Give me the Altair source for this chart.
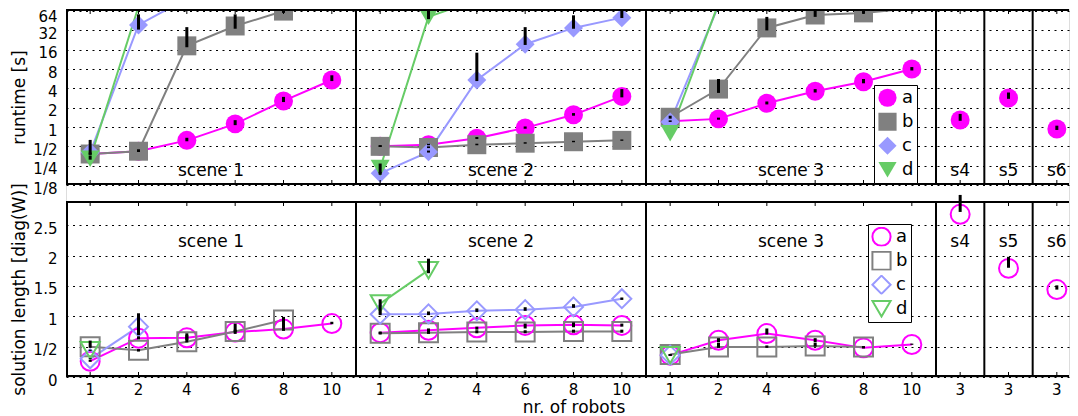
import altair as alt
import pandas as pd

FONT = "DejaVu Sans"
SERIES = ["a", "b", "c", "d"]
COLORS = ["#ff00ff", "#808080", "#9999ff", "#66cc66"]
SHAPES = ["circle", "square", "diamond", "triangle-down"]
SCENES = ["scene 1", "scene 2", "scene 3", "s4", "s5", "s6"]
SCENE_ROBOTS = [[1, 2, 4, 6, 8, 10], [1, 2, 4, 6, 8, 10], [1, 2, 4, 6, 8, 10], [3], [3], [3]]
RT_TICKS = [0.125, 0.25, 0.5, 1, 2, 4, 8, 16, 32, 64]
LEN_TICKS = [0, 0.5, 1, 1.5, 2, 2.5]

# runtime [s]  (per scene; missing = no result)
RT_A = [[0.38, 0.42, 0.62, 1.12, 2.55, 5.4], [0.50, 0.53, 0.67, 0.97, 1.55, 3.0],
        [1.23, 1.34, 2.34, 3.6, 5.07, 8.0], [1.29], [2.84], [0.93]]
RT_A_LO = [[0.37, 0.41, 0.60, 1.07, 2.45, 5.2], [0.49, 0.52, 0.65, 0.94, 1.5, 2.9],
           [1.2, 1.3, 2.25, 3.45, 4.8, 7.6], [1.25], [2.75], [0.9]]
RT_A_HI = [[0.40, 0.44, 0.68, 1.28, 2.95, 6.4], [0.52, 0.55, 0.70, 1.02, 1.65, 3.9],
           [1.27, 1.4, 2.5, 3.9, 5.6, 8.6], [1.6], [3.45], [1.05]]
RT_B = [[0.38, 0.42, 18.4, 37.5, 64, 72], [0.50, 0.48, 0.53, 0.56, 0.59, 0.62],
        [1.42, 3.9, 35, 55.6, 60, 71], [], [], []]
RT_B_LO = [[0.37, 0.41, 17.5, 34, 60, None], [0.49, 0.47, 0.52, 0.55, 0.58, 0.61],
           [1.35, 3.4, 32, 52, 58, None], [], [], []]
RT_B_HI = [[0.63, 0.45, 36, 57, 70, None], [0.52, 0.50, 0.55, 0.58, 0.61, 0.64],
           [1.5, 5.6, 52, 68, 68, None], [], [], []]
RT_C = [[0.40, 39, 100], [0.19, 0.41, 5.4, 19.5, 35, 50.6], [1.2, 78], [], [], []]
RT_C_LO = [[None, 33, None], [0.18, 0.40, 5.2, 19, 34, 50], [None, None], [], [], []]
RT_C_HI = [[None, 57, None], [0.20, 0.43, 14.4, 36, 55, 68], [None, None], [], [], []]
RT_D = [[0.32, 75], [0.23, 52, 96], [0.8, 84], [], [], []]
RT_D_LO = [[0.31, None], [0.19, 48, None], [None, None], [], [], []]
RT_D_HI = [[0.36, None], [0.27, 68, None], [None, None], [], [], []]

# solution length [diag(W)]
LEN_A = [[0.26, 0.64, 0.645, 0.74, 0.79, 0.88], [0.73, 0.77, 0.81, 0.85, 0.86, 0.85],
         [0.36, 0.605, 0.715, 0.605, 0.48, 0.535], [2.68], [1.79], [1.44]]
LEN_A_LO = [[0.25, 0.62, 0.61, 0.71, 0.76, 0.87], [0.71, 0.74, 0.78, 0.80, 0.82, 0.83],
            [0.35, 0.57, 0.70, 0.57, 0.47, 0.53], [2.72], [1.80], [1.44]]
LEN_A_HI = [[0.28, 0.67, 0.69, 0.78, 0.83, 0.91], [0.75, 0.80, 0.83, 0.88, 0.90, 0.88],
            [0.37, 0.64, 0.80, 0.64, 0.49, 0.55], [3.0], [1.98], [1.51]]
LEN_B = [[0.50, 0.44, 0.58, 0.75, 0.94], [0.72, 0.73, 0.74, 0.74, 0.75, 0.75],
         [0.37, 0.495, 0.495, 0.51, 0.495], [], [], []]
LEN_B_LO = [[0.48, 0.42, 0.57, 0.74, 0.80], [0.70, 0.71, 0.72, 0.72, 0.73, 0.73],
            [0.36, 0.48, 0.48, 0.50, 0.48], [], [], []]
LEN_B_HI = [[0.60, 0.46, 0.72, 0.88, 0.99], [0.74, 0.76, 0.77, 0.77, 0.78, 0.78],
            [0.38, 0.56, 0.52, 0.56, 0.51], [], [], []]
LEN_C = [[0.30, 0.83], [1.035, 1.04, 1.09, 1.11, 1.155, 1.29], [0.36], [], [], []]
LEN_C_LO = [[0.29, 0.69], [1.02, 1.02, 1.07, 1.09, 1.14, 1.27], [0.35], [], [], []]
LEN_C_HI = [[0.31, 1.05], [1.06, 1.08, 1.13, 1.15, 1.20, 1.31], [0.37], [], [], []]
LEN_D = [[0.44], [1.21, 1.76], [0.36], [], [], []]
LEN_D_LO = [[0.43], [1.05, 1.71], [0.35], [], [], []]
LEN_D_HI = [[0.45], [1.28, 1.95], [0.37], [], [], []]

KEYS = [f"{sc}|{r}" for sc, rs in zip(SCENES, SCENE_ROBOTS) for r in rs]


def build(tables):
    rows = []
    for s, (means, los, his) in zip(SERIES, tables):
        for ci, sc in enumerate(SCENES):
            for ri, v in enumerate(means[ci]):
                r = SCENE_ROBOTS[ci][ri]
                rows.append({"series": s, "scene": sc, "robots": r, "key": f"{sc}|{r}",
                             "v": v, "lo": los[ci][ri], "hi": his[ci][ri]})
    return pd.DataFrame(rows)


rt_df = build([(RT_A, RT_A_LO, RT_A_HI), (RT_B, RT_B_LO, RT_B_HI),
               (RT_C, RT_C_LO, RT_C_HI), (RT_D, RT_D_LO, RT_D_HI)])
len_df = build([(LEN_A, LEN_A_LO, LEN_A_HI), (LEN_B, LEN_B_LO, LEN_B_HI),
                (LEN_C, LEN_C_LO, LEN_C_HI), (LEN_D, LEN_D_LO, LEN_D_HI)])

keys_df = pd.DataFrame({"key": KEYS})
sep_df = pd.DataFrame({"key": [f"{sc}|{rs[0]}" for sc, rs in zip(SCENES[1:], SCENE_ROBOTS[1:])]})
big_lab = pd.DataFrame({"key": [f"{sc}|6" for sc in SCENES[:3]], "label": SCENES[:3]})
small_lab = pd.DataFrame({"key": [f"{sc}|3" for sc in SCENES[3:]], "label": SCENES[3:]})
one_df = pd.DataFrame({"k": [0]})

FULL = 1015       # width of all 21 robot slots (the last one runs past the page edge)
H = 176           # height of one panel row
GAP = 16
B0 = H + GAP      # top of the lower row
HT = B0 + H

xscale = alt.Scale(type="band", domain=KEYS, paddingInner=0, paddingOuter=0, range=[0, FULL])
xaxis = alt.Axis(labelExpr="split(datum.label, '|')[1]", ticks=False, domain=False,
                 labelPadding=5, labelAngle=0, grid=False, title="nr. of robots",
                 labelFontSize=15, titleFontSize=17, titleFontWeight="normal",
                 titlePadding=2, labelFont=FONT, titleFont=FONT, labelOverlap=False,
                 labelColor="black", titleColor="black")


def X(bp=0.5):
    return alt.X("key:N", scale=xscale, bandPosition=bp, axis=xaxis)


ycommon = dict(grid=True, gridDash=[2, 4.5], gridColor="black", gridWidth=1, ticks=False,
               domain=False, labelPadding=9, labelFontSize=15, titleFontSize=17,
               titleFontWeight="normal", minExtent=33, maxExtent=33, titlePadding=5,
               labelFont=FONT, titleFont=FONT, labelColor="black", titleColor="black",
               labelOverlap=False, orient="left")

ytop = alt.Scale(type="log", base=2, domain=[0.125, 69], nice=False, range=[H, 0])
ybot = alt.Scale(domain=[0, 2.9], nice=False, zero=True, range=[HT, B0])
axis_top = alt.Axis(values=RT_TICKS, title="runtime [s]", tickCount=12,
                    labelExpr="datum.value < 1 ? '1/' + format(1/datum.value, 'd') : format(datum.value, 'd')",
                    labelOffset={"condition": {"test": "datum.value >= 64", "value": 5.5}, "value": 3},
                    **ycommon)
axis_bot = alt.Axis(values=LEN_TICKS, title="solution length [diag(W)]", tickCount=8,
                    labelExpr="datum.value == 0.5 ? '1/2' : format(datum.value, '~g')",
                    labelOffset=3, **ycommon)


def legend(lx, ly):
    return alt.Legend(title=None, orient="none", legendX=lx, legendY=ly,
                      strokeColor="black", fillColor="white", padding=3, labelFontSize=18,
                      labelFont=FONT, symbolSize=330, rowPadding=4, clipHeight=19.5,
                      symbolStrokeWidth=2, labelOffset=4)


def data_layers(df, yscale, yaxis, filled, ymax, leg):
    base = alt.Chart(df)
    lines = base.mark_line(strokeWidth=2, clip=True).encode(
        x=X(), y=alt.Y("v:Q", scale=yscale, axis=None),
        stroke=alt.Stroke("series:N", scale=alt.Scale(domain=SERIES, range=COLORS), legend=None),
        detail="scene:N", order=alt.Order("robots:Q"))
    pts = base.mark_point(filled=filled, opacity=1, size=360, strokeWidth=2, clip=True).encode(
        x=X(), y=alt.Y("v:Q", scale=yscale, axis=yaxis),
        color=alt.Color("series:N", scale=alt.Scale(domain=SERIES, range=COLORS), legend=leg),
        shape=alt.Shape("series:N", scale=alt.Scale(domain=SERIES, range=SHAPES), legend=leg),
    ).transform_filter(f"datum.v <= {ymax}")
    err = base.mark_rule(color="black", strokeWidth=3, clip=True).encode(
        x=X(), y=alt.Y("lo:Q", scale=yscale, axis=None), y2="hi:Q"
    ).transform_filter("isValid(datum.lo)")
    return [lines, pts, err]


def deco_layers(y0, text_y):
    seps = alt.Chart(sep_df).mark_rule(color="black", strokeWidth=2).encode(
        x=X(0), y=alt.value(y0), y2=alt.value(y0 + H))
    t_up = alt.Chart(keys_df).mark_rule(color="black", strokeWidth=1).encode(
        x=X(), y=alt.value(y0), y2=alt.value(y0 + 5))
    t_dn = alt.Chart(keys_df).mark_rule(color="black", strokeWidth=1).encode(
        x=X(), y=alt.value(y0 + H - 5), y2=alt.value(y0 + H))
    f_top = alt.Chart(one_df).mark_rule(color="black", strokeWidth=2).encode(
        x=alt.value(0), x2=alt.value("width"), y=alt.value(y0 + 1))
    f_bot = alt.Chart(one_df).mark_rule(color="black", strokeWidth=2).encode(
        x=alt.value(0), x2=alt.value("width"), y=alt.value(y0 + H - 1))
    f_left = alt.Chart(one_df).mark_rule(color="black", strokeWidth=2).encode(
        x=alt.value(1), y=alt.value(y0), y2=alt.value(y0 + H))
    t1 = alt.Chart(big_lab).mark_text(font=FONT, fontSize=17, baseline="middle").encode(
        x=X(0), y=alt.value(y0 + text_y), text="label:N")
    t2 = alt.Chart(small_lab).mark_text(font=FONT, fontSize=17, baseline="middle").encode(
        x=X(0.5), y=alt.value(y0 + text_y), text="label:N")
    return [seps, t_up, t_dn, f_top, f_bot, f_left, t1, t2]


layers = (data_layers(rt_df, ytop, axis_top, True, 69, legend(808, 76))
          + data_layers(len_df, ybot, axis_bot, False, 2.9, legend(802, B0 + 23))
          + deco_layers(0, 162) + deco_layers(B0, 41))

chart = alt.layer(*layers).resolve_scale(
    y="independent", color="independent", shape="independent", stroke="independent"
).properties(
    width=1062, height=HT,
    autosize=alt.AutoSizeParams(type="fit-x", contains="padding"),
    padding={"left": 2, "top": 0, "right": 0, "bottom": 0},
).configure_view(stroke=None).configure(background="white")

chart.save("out.html", embed_options={"renderer": "svg", "actions": False})
